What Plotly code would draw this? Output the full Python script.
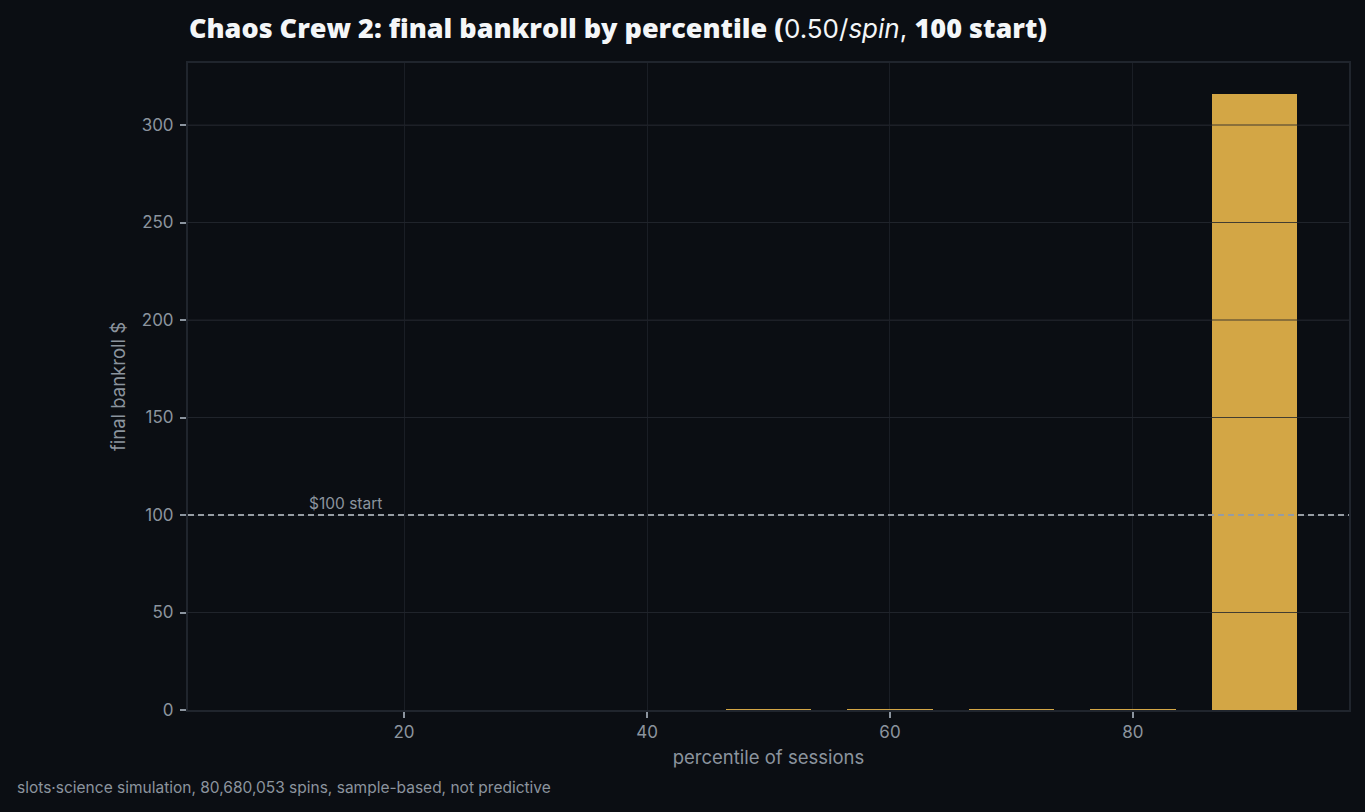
import plotly.graph_objects as go

percentiles = [10, 20, 30, 40, 50, 60, 70, 80, 90]
bankroll = [0, 0, 0, 0, 0.5, 0.5, 0.5, 0.5, 316]
y_ticks = [0, 50, 100, 150, 200, 250, 300]
x_ticks = [20, 40, 60, 80]
start_bankroll = 100

BG = "#0b0e13"
GRID = "#1a1e25"
AXIS = "#20252d"
TXT = "#8b949e"
GOLD = "#d3a645"

fig = go.Figure()
fig.add_trace(go.Bar(x=percentiles, y=bankroll, width=7, marker=dict(color=GOLD, line=dict(width=0)),
                     hoverinfo="x+y"))

# gridlines drawn on top of the bars
for t in y_ticks[1:]:
    if t != start_bankroll:
        fig.add_hline(y=t, line=dict(color="rgba(34,38,45,0.82)", width=1.2), layer="above")

fig.add_hline(y=start_bankroll, line=dict(color="#969ca3", width=1.8, dash="6px,4px"), layer="above")
fig.add_annotation(x=12, y=start_bankroll, text="$100 start", showarrow=False, xanchor="left",
                   yanchor="bottom", yshift=0, font=dict(family="Inter", size=15.5, color=TXT))

B = "<span style='font-family:\"Open Sans\";font-weight:800;font-size:27px'>"
title_text = (B + "Chaos Crew 2: final bankroll by percentile (</span>"
              "0.50/<i>spin</i>, " + B + "100 start)</span>")

fig.update_layout(
    width=1365, height=812,
    paper_bgcolor=BG, plot_bgcolor=BG,
    margin=dict(l=188, r=16, t=63, b=102),
    showlegend=False,
    title=dict(
        text=title_text,
        x=189 / 1365, xanchor="left", y=1 - 29 / 812, yanchor="middle",
        font=dict(family="Inter", size=26, color="#f4f6f8"),
    ),
    font=dict(family="Inter", color=TXT),
    bargap=0,
)
fig.update_xaxes(
    range=[2.22, 97.78], tickvals=x_ticks, ticktext=[str(v) for v in x_ticks],
    showgrid=True, gridcolor=GRID, gridwidth=1, zeroline=False,
    showline=True, linecolor=AXIS, linewidth=2, mirror=True,
    ticks="outside", ticklen=6, tickcolor=TXT, tickwidth=2,
    tickfont=dict(family="Inter", size=17, color=TXT),
    title=dict(text="percentile of sessions", font=dict(family="Inter", size=18.5, color=TXT), standoff=10),
)
fig.update_yaxes(
    range=[0, 331.8], tickvals=y_ticks, ticktext=[str(v) for v in y_ticks],
    showgrid=True, gridcolor=GRID, gridwidth=1, zeroline=False,
    showline=True, linecolor=AXIS, linewidth=2, mirror=True,
    ticks="outside", ticklen=6, tickcolor=TXT, tickwidth=2, ticklabelstandoff=3,
    tickfont=dict(family="Inter", size=17, color=TXT),
    title=dict(text="final bankroll $", font=dict(family="Inter", size=18.5, color=TXT), standoff=11),
)
fig.add_annotation(xref="paper", yref="paper", x=(15 - 188) / 1161, y=-(788 - 710) / 647,
                   xanchor="left", yanchor="middle", showarrow=False,
                   text="slots·science simulation, 80,680,053 spins, sample-based, not predictive",
                   font=dict(family="Inter", size=15.5, color=TXT))

fig.write_html("out.html")
